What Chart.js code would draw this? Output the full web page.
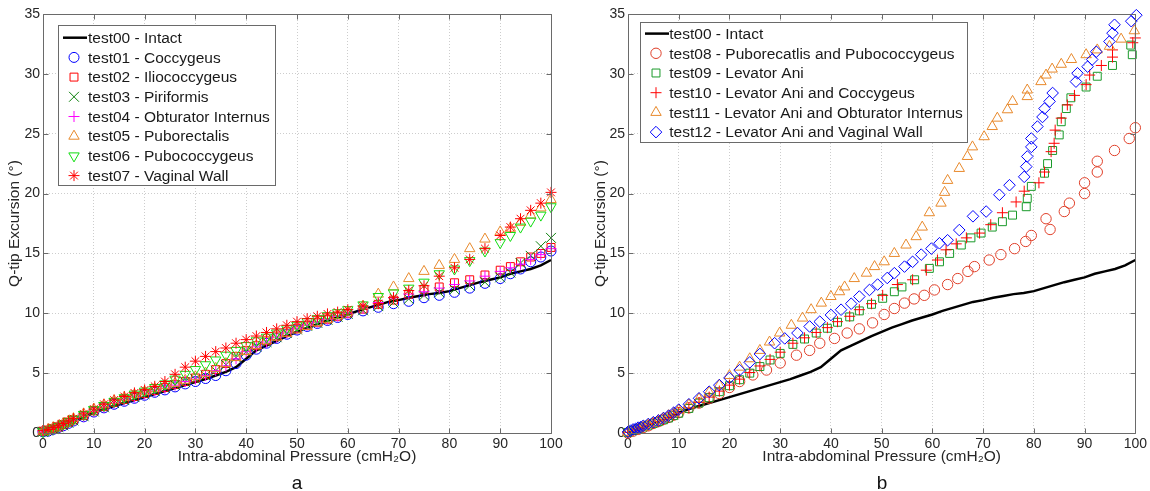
<!DOCTYPE html>
<html><head><meta charset="utf-8">
<script src="https://cdn.jsdelivr.net/npm/chart.js@4.4.1/dist/chart.umd.min.js"></script>
<style>
html,body{margin:0;padding:0;background:#fff;}
#wrap{position:relative;width:1150px;height:491px;overflow:hidden;background:#fff;}
.pane{position:absolute;top:0;width:575px;height:491px;}
.lab{position:absolute;font-family:"Liberation Sans",Arial,sans-serif;font-size:19px;color:#111;transform:translateX(-50%);line-height:22px;}
</style></head><body>
<div id="wrap">
<div class="pane" style="left:0"><canvas id="ca" width="575" height="491"></canvas></div>
<div class="pane" style="left:575px"><canvas id="cb" width="575" height="491"></canvas></div>
<div class="lab" style="left:297px;top:472px">a</div>
<div class="lab" style="left:882px;top:472px">b</div>
</div>
<script>
// ---------- data ----------
const X_TICK_STEP = 10;
const Y_TICK_STEP = 5;
const X_MIN = 0, X_MAX = 100, Y_MIN = 0, Y_MAX = 35;

// test00 - Intact (same curve in both panels)
const INTACT_X = [0,2,4,6,8,10,12,14,16,18,20,22,24,26,28,30,32,34,36,38,40,42,44,46,48,50,52,54,56,58,60,62,64,66,68,70,72,74,76,78,80,82,84,86,88,90,92,94,96,98,100];
const INTACT_Y = [0,0.3,0.6,0.95,1.3,1.7,2.0,2.25,2.5,2.75,3.0,3.25,3.5,3.75,4.0,4.25,4.5,4.8,5.1,5.5,6.2,6.9,7.3,7.7,8.1,8.45,8.8,9.1,9.4,9.65,9.9,10.2,10.45,10.7,10.95,11.1,11.3,11.45,11.6,11.7,11.85,12.1,12.35,12.6,12.8,13.0,13.3,13.5,13.7,14.0,14.45];

// panel a
const A_X = [0,1,2,3,4,5,6,8,10,12,14,16,18,20,22,24,26,28,30,32,34,36,38,40,42,44,46,48,50,52,54,56,58,60,63,66,69,72,75,78,81,84,87,90,92,94,96,98,100];
const T01_Y = [0.1,0.15,0.3,0.45,0.6,0.8,1.0,1.35,1.75,2.1,2.4,2.65,2.9,3.15,3.4,3.6,3.85,4.1,4.3,4.55,4.8,5.2,5.8,6.5,7.0,7.5,7.9,8.25,8.6,8.9,9.15,9.4,9.65,9.9,10.2,10.5,10.8,11.0,11.3,11.5,11.75,12.1,12.5,12.9,13.3,13.7,14.3,14.7,15.2];
const T02_Y = [0.15,0.25,0.35,0.5,0.7,0.9,1.1,1.45,1.85,2.2,2.55,2.8,3.05,3.3,3.55,3.8,4.05,4.3,4.6,4.9,5.3,5.8,6.4,6.9,7.3,7.7,8.1,8.45,8.75,9.0,9.25,9.5,9.75,10.0,10.35,10.75,11.1,11.6,12.0,12.2,12.55,12.8,13.2,13.6,13.9,14.3,14.7,15.0,15.5];
const T03_Y = [0.1,0.2,0.35,0.5,0.65,0.85,1.05,1.4,1.8,2.15,2.5,2.75,3.0,3.25,3.5,3.75,4.0,4.25,4.5,4.8,5.2,5.7,6.3,6.8,7.2,7.6,8.0,8.35,8.65,8.95,9.2,9.45,9.7,9.95,10.25,10.6,10.9,11.2,11.5,11.75,12.0,12.3,12.6,13.0,13.4,14.2,14.8,15.6,16.3];
const T04_Y = [0.1,0.2,0.35,0.5,0.65,0.85,1.05,1.4,1.8,2.15,2.5,2.75,3.0,3.25,3.5,3.75,4.0,4.3,4.5,4.8,5.2,5.6,6.2,6.8,7.2,7.6,8.0,8.35,8.7,9.0,9.25,9.5,9.75,10.0,10.4,10.9,11.3,11.6,11.8,12.1,12.4,12.7,13.1,13.5,13.8,14.1,14.5,14.9,15.4];
const T05_Y = [0.15,0.3,0.45,0.6,0.8,1.0,1.2,1.6,2.0,2.35,2.7,2.95,3.2,3.45,3.7,3.95,4.15,4.4,4.7,5.0,5.4,5.8,6.3,6.8,7.3,7.7,8.0,8.3,8.6,8.9,9.2,9.5,9.8,10.1,10.6,11.6,12.2,12.9,13.5,14.0,14.5,15.4,16.2,16.8,17.1,17.6,18.2,18.8,19.5];
const T06_Y = [0.1,0.25,0.4,0.55,0.75,0.95,1.15,1.55,1.95,2.3,2.65,2.95,3.25,3.5,3.8,4.1,4.5,4.9,5.3,5.7,6.1,6.5,6.9,7.3,7.7,8.0,8.35,8.7,9.0,9.3,9.55,9.8,10.05,10.3,10.7,11.4,11.7,12.1,12.6,13.3,13.7,14.4,15.2,15.9,16.5,17.2,17.7,18.2,18.9];
const T07_Y = [0.2,0.3,0.45,0.6,0.8,1.0,1.2,1.6,2.0,2.4,2.75,3.05,3.35,3.6,3.9,4.3,4.9,5.5,6.0,6.4,6.8,7.1,7.5,7.8,8.1,8.4,8.7,9.0,9.3,9.55,9.75,9.95,10.1,10.3,10.6,10.8,11.3,11.9,12.3,13.1,13.8,14.5,15.4,16.5,17.2,17.9,18.6,19.2,20.1];

// panel b
const T08_X = [0,1,2,3,4,5,6,7,8,9,10,12,14,16,18,20,22,24.6,27.3,30,33.2,35.8,37.8,40.7,43.2,45.6,48.2,50.5,52.5,54.5,56.4,58.4,60.4,63,65,67,68.3,71.2,73.5,76.2,78.4,79.5,82.4,83.2,86,87,90,90,92.5,92.5,95.9,98.8,100];
const T08_Y = [0,0.15,0.3,0.45,0.6,0.8,0.95,1.15,1.3,1.5,1.7,2.1,2.5,2.9,3.3,3.8,4.3,4.85,5.26,5.85,6.5,6.9,7.5,7.9,8.35,8.7,9.2,9.9,10.4,10.85,11.2,11.5,11.95,12.4,12.9,13.5,13.9,14.45,14.9,15.4,16.0,16.5,17.9,17.0,18.5,19.2,20.0,20.9,21.8,22.7,23.6,24.6,25.5];
const T09_X = [0,1,2,3,4,5,6,7,8,9,10,12,14,16,18,20,22,24,26,28,30,32.5,34.8,37.1,39.3,41.3,43.7,45.6,48,50.2,52.5,54,56.5,59.4,61.4,63.4,65.7,67.6,69.6,71.8,73.8,75.8,78.5,78.7,79.5,82.1,82.7,83.7,85,85.4,86.4,87.3,90.3,92.5,95.5,99.1,99.4];
const T09_Y = [0.05,0.2,0.35,0.5,0.65,0.8,0.95,1.1,1.25,1.45,1.65,2.05,2.5,2.95,3.45,3.95,4.45,5.0,5.55,6.1,6.65,7.4,7.85,8.35,8.75,9.25,9.7,10.2,10.75,11.25,11.8,12.2,12.8,13.75,14.3,15.0,15.7,16.3,16.7,17.2,17.65,18.2,18.9,19.6,20.6,21.7,22.5,23.6,24.9,26.0,27.1,28.0,28.9,29.8,30.7,32.4,31.6];
const T10_X = [0,1,2,3,4,5,6,7,8,9,10,12,14,16,18,20,22,24,26,28,30,32.5,34.8,37.1,39.3,41.3,43.7,45.6,48,50.2,53.1,56.1,58.8,61,62.7,64.7,66.7,69.3,71.5,73.8,76.5,78.1,81,82.1,83.4,84,84.2,85.4,86.6,88,90.3,91,93.3,95.5,95.5,99.5,100];
const T10_Y = [0.05,0.2,0.35,0.5,0.65,0.8,0.95,1.1,1.3,1.5,1.7,2.1,2.55,3.0,3.5,4.0,4.5,5.05,5.6,6.15,6.75,7.5,7.95,8.4,8.8,9.3,9.75,10.3,10.8,11.5,12.4,12.8,13.6,14.45,15.3,15.8,16.3,16.7,17.4,18.4,19.3,20.2,20.9,21.8,23.5,24.2,25.3,26.3,27.4,28.2,29.1,29.9,30.7,31.4,32.0,32.6,33.0];
const T11_X = [0,1,2,3,4,5,6,7,8,9,10,12,14,16,18,20,22,24,26,27.9,29.9,32.2,34.4,36.1,38.1,40,41.7,42.7,44.6,47,48.6,50.5,52.5,54.8,56.8,58,59.4,61.7,62.4,63,65.3,66.9,67.9,70.2,71.8,72.8,74.8,75.8,78.7,78.7,81.4,82.4,83.6,85.4,87.4,90.3,92.5,94.9,97.2,99.8];
const T11_Y = [0.05,0.2,0.35,0.5,0.7,0.85,1.05,1.25,1.45,1.65,1.9,2.35,2.85,3.4,4.0,4.8,5.5,6.2,6.9,7.6,8.35,9.0,9.6,10.3,10.85,11.4,11.8,12.2,12.9,13.35,13.9,14.3,15.0,15.7,16.4,17.2,18.4,19.2,20.1,21.1,22.1,23.1,23.9,24.75,25.6,26.3,27.0,27.7,28.1,28.65,29.35,29.9,30.4,30.8,31.2,31.6,32.0,32.3,32.9,33.6];
const T12_X = [0,0.5,1,1.5,2,2.5,3,4,5,6,7,8,9,10,12,14,16,18,20,22,24,26,28.9,30.9,33.4,35.8,37.8,40,42,44,45.6,47.6,49.2,51.1,52.5,54.5,56.1,57.8,59.8,61.4,63,65.3,68,70.6,73.2,75.2,78.1,78.5,78.7,79.5,79.5,80.7,81.7,82.1,83.1,83.7,88.3,88.6,90.6,91.5,92.3,94.9,95.5,95.9,99.2,100.2];
const T12_Y = [0.1,0.2,0.3,0.35,0.45,0.5,0.6,0.75,0.9,1.05,1.25,1.45,1.7,1.95,2.4,2.9,3.45,4.0,4.6,5.25,5.9,6.6,7.5,7.9,8.35,8.9,9.3,9.86,10.3,10.8,11.4,11.95,12.4,12.95,13.35,13.9,14.3,14.9,15.4,15.85,16.1,16.95,18.1,18.5,19.9,20.7,21.4,22.25,23.1,23.9,24.6,25.6,26.4,27.1,27.7,28.4,29.35,30.05,30.6,31.2,31.85,32.7,33.4,34.1,34.4,34.9];

const LABELS_A = ['test00 - Intact','test01 - Coccygeus','test02 - Iliococcygeus','test03 - Piriformis','test04 - Obturator Internus','test05 - Puborectalis','test06 - Pubococcygeus','test07 - Vaginal Wall'];
const LABELS_B = ['test00 - Intact','test08 - Puborecatlis and Pubococcygeus','test09 - Levator Ani','test10 - Levator Ani and Coccygeus','test11 - Levator Ani and Obturator Internus','test12 - Levator Ani and Vaginal Wall'];

const X_TITLE = 'Intra-abdominal Pressure (cmH\u2082O)';
const Y_TITLE = 'Q-tip Excursion (\u00B0)';

// ---------- helpers ----------
const FONT = '"Liberation Sans", Arial, Helvetica, sans-serif';
const pts = (xs, ys) => xs.map((x, i) => ({x: x, y: ys[i]}));

function lineSet(label, xs, ys) {
  return {label, data: pts(xs, ys), showLine: true, borderColor: '#000', backgroundColor: '#000',
    borderWidth: 2.5, pointRadius: 0, pointHoverRadius: 0, order: 100, clip: false, tension: 0};
}
function markSet(label, xs, ys, color, style, radius, rot, order) {
  return {label, data: pts(xs, ys), showLine: false, borderColor: color, backgroundColor: 'rgba(0,0,0,0)',
    pointStyle: style, pointRadius: radius, pointHoverRadius: radius, pointRotation: rot || 0,
    pointBorderColor: color, pointBackgroundColor: 'rgba(0,0,0,0)', pointBorderWidth: 1, borderWidth: 1,
    order: order, clip: false};
}

function drawMarker(ctx, d, x, y) {
  const H = (window.Chart && Chart.helpers && Chart.helpers.drawPoint) ? Chart.helpers.drawPoint : null;
  ctx.strokeStyle = d.pointBorderColor; ctx.fillStyle = 'rgba(0,0,0,0)'; ctx.lineWidth = d.pointBorderWidth;
  if (H) {
    H(ctx, {pointStyle: d.pointStyle, radius: d.pointRadius, rotation: d.pointRotation, borderWidth: d.pointBorderWidth}, x, y);
  } else {
    ctx.beginPath(); ctx.arc(x, y, d.pointRadius, 0, Math.PI * 2); ctx.stroke();
  }
}

const boxPlugin = {
  id: 'matBox',
  afterDatasetsDraw(chart) {
    const {ctx, chartArea: a} = chart;
    const xs = chart.scales.x, ys = chart.scales.y;
    ctx.save();
    ctx.strokeStyle = '#6a6a6a'; ctx.lineWidth = 1; ctx.setLineDash([]);
    const L = Math.round(a.left) + 0.5, T = Math.round(a.top) + 0.5, R = Math.round(a.right) + 0.5, B = Math.round(a.bottom) + 0.5;
    ctx.beginPath();
    ctx.moveTo(L, T); ctx.lineTo(R, T); ctx.lineTo(R, B); ctx.lineTo(L, B); ctx.closePath();
    const tl = 5;
    xs.ticks.forEach(t => { const p = Math.round(xs.getPixelForValue(t.value)) + 0.5; ctx.moveTo(p, B); ctx.lineTo(p, B - tl); ctx.moveTo(p, T); ctx.lineTo(p, T + tl); });
    ys.ticks.forEach(t => { const p = Math.round(ys.getPixelForValue(t.value)) + 0.5; ctx.moveTo(L, p); ctx.lineTo(L + tl, p); ctx.moveTo(R, p); ctx.lineTo(R - tl, p); });
    ctx.stroke();
    ctx.restore();
  }
};

const legendPlugin = {
  id: 'inLegend',
  afterDraw(chart, args, o) {
    const {ctx, chartArea: a} = chart;
    const ds = chart.data.datasets;
    ctx.save();
    ctx.font = o.fontSize + 'px ' + FONT;
    const tw = Math.max.apply(null, ds.map(d => ctx.measureText(d.label).width));
    const left = Math.round(a.left + o.dx), top = Math.round(a.top + o.dy);
    const w = Math.round(o.textOff + tw + o.padR);
    const h = Math.round(o.padT + (ds.length - 1) * o.rowH + o.padB);
    ctx.fillStyle = '#fff'; ctx.fillRect(left, top, w, h);
    ctx.strokeStyle = '#6a6a6a'; ctx.lineWidth = 1; ctx.strokeRect(left + 0.5, top + 0.5, w, h);
    ds.forEach((d, i) => {
      const cy = top + o.padT + i * o.rowH;
      if (d.showLine) {
        ctx.beginPath(); ctx.strokeStyle = d.borderColor; ctx.lineWidth = d.borderWidth;
        ctx.moveTo(left + 5, cy); ctx.lineTo(left + 29, cy); ctx.stroke();
      } else {
        drawMarker(ctx, d, left + 16, cy);
      }
      ctx.fillStyle = '#1a1a1a'; ctx.textBaseline = 'middle'; ctx.textAlign = 'left';
      ctx.font = o.fontSize + 'px ' + FONT;
      ctx.fillText(d.label, left + o.textOff, cy + 1);
    });
    ctx.restore();
  }
};

function makeOptions(yWidth, padRight, titlePadY, legendOpts) {
  return {
    responsive: false, animation: false, events: [],
    layout: {padding: {left: 0, right: padRight, top: 14, bottom: 25}},
    plugins: {legend: {display: false}, tooltip: {enabled: false}, inLegend: legendOpts},
    scales: {
      x: {type: 'linear', min: X_MIN, max: X_MAX,
        ticks: {stepSize: X_TICK_STEP, color: '#262626', font: {family: FONT, size: 14}, padding: 3, maxRotation: 0, autoSkip: false},
        grid: {color: '#cdcdcd', drawTicks: false, lineWidth: 1},
        border: {display: false, dash: [1, 2]},
        title: {display: true, text: X_TITLE, color: '#262626', font: {family: FONT, size: 15.5}, padding: {top: 0, bottom: 0}},
        afterFit(s) { s.height = 33; }
      },
      y: {type: 'linear', min: Y_MIN, max: Y_MAX,
        ticks: {stepSize: Y_TICK_STEP, color: '#262626', font: {family: FONT, size: 14}, padding: 3},
        grid: {color: '#cdcdcd', drawTicks: false, lineWidth: 1},
        border: {display: false, dash: [1, 2]},
        title: {display: true, text: Y_TITLE, color: '#262626', font: {family: FONT, size: 15.5}, padding: {top: titlePadY, bottom: 0}},
        afterFit(s) { s.width = yWidth; }
      }
    }
  };
}

// ---------- panel a ----------
new Chart(document.getElementById('ca'), {
  type: 'scatter',
  data: {datasets: [
    lineSet(LABELS_A[0], INTACT_X, INTACT_Y),
    markSet(LABELS_A[1], A_X, T01_Y, '#0000ff', 'circle', 5, 0, 7),
    markSet(LABELS_A[2], A_X, T02_Y, '#ff0000', 'rect', 5.6, 0, 6),
    markSet(LABELS_A[3], A_X, T03_Y, '#0a800a', 'crossRot', 7, 0, 5),
    markSet(LABELS_A[4], A_X, T04_Y, '#ff00ff', 'cross', 5.5, 0, 4),
    markSet(LABELS_A[5], A_X, T05_Y, '#e8892b', 'triangle', 6, 0, 3),
    markSet(LABELS_A[6], A_X, T06_Y, '#11dd11', 'triangle', 6, 180, 2),
    markSet(LABELS_A[7], A_X, T07_Y, '#ff0000', 'star', 5.5, 0, 1)
  ]},
  options: makeOptions(43, 24, 5, {dx: 15, dy: 11, rowH: 19.7, padT: 12.7, padB: 9.3, textOff: 30, padR: 5, fontSize: 15.5}),
  plugins: [boxPlugin, legendPlugin]
});

// ---------- panel b ----------
new Chart(document.getElementById('cb'), {
  type: 'scatter',
  data: {datasets: [
    lineSet(LABELS_B[0], INTACT_X, INTACT_Y),
    markSet(LABELS_B[1], T08_X, T08_Y, '#e0402a', 'circle', 5.2, 0, 5),
    markSet(LABELS_B[2], T09_X, T09_Y, '#1a9a2a', 'rect', 5.6, 0, 4),
    markSet(LABELS_B[3], T10_X, T10_Y, '#ff0000', 'cross', 5.5, 0, 3),
    markSet(LABELS_B[4], T11_X, T11_Y, '#e8892b', 'triangle', 6, 0, 2),
    markSet(LABELS_B[5], T12_X, T12_Y, '#0000ff', 'rectRot', 5.8, 0, 1)
  ]},
  options: makeOptions(53, 14, 16, {dx: 12, dy: 8, rowH: 19.7, padT: 11.6, padB: 10, textOff: 29.3, padR: 4, fontSize: 15.5}),
  plugins: [boxPlugin, legendPlugin]
});
</script>
</body></html>
